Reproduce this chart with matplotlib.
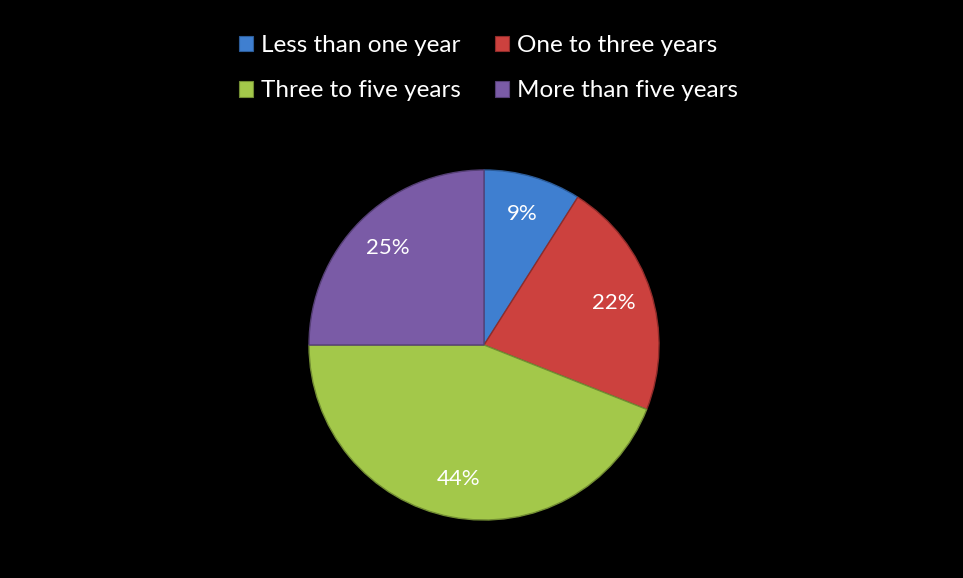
import matplotlib.pyplot as plt
from matplotlib.patches import Patch

plt.rcParams["font.family"] = ["Lato", "DejaVu Sans"]

categories = ["Less than one year", "One to three years", "Three to five years", "More than five years"]
shares = [9, 22, 44, 25]
colors = ["#3f7fd0", "#cc413e", "#a3c84a", "#7a5ba6"]
edge_colors = ["#2c5c99", "#8f2c2a", "#728d33", "#553f75"]

fig = plt.figure(figsize=(9.63, 5.78), dpi=100, facecolor="black")

# pie area: centre about (484, 345) px, radius 175 px
ax = fig.add_axes([309 / 963, 58 / 578, 350 / 963, 350 / 578])
ax.set_facecolor("black")
wedges, texts, autotexts = ax.pie(
    shares, colors=colors, startangle=90, counterclock=False,
    autopct="%d%%", pctdistance=0.78, radius=1,
    wedgeprops=dict(linewidth=1.0),
    textprops=dict(color="white", fontsize=16),
)
for w, ec in zip(wedges, edge_colors):
    w.set_edgecolor(ec)
ax.set_xlim(-1.0, 1.0)
ax.set_ylim(-1.0, 1.0)
ax.set_aspect("equal")
ax.axis("off")

# legend fills column by column, reorder so it reads row by row
order = [0, 2, 1, 3]
handles = [Patch(facecolor=colors[i], edgecolor=edge_colors[i], linewidth=0.8) for i in order]
labels = [categories[i] for i in order]
leg = fig.legend(
    handles, labels, ncol=2, loc="upper center", bbox_to_anchor=(0.507, 0.977),
    frameon=False, fontsize=17.5, labelcolor="white",
    handlelength=0.6, handleheight=0.6, handletextpad=0.3,
    columnspacing=1.4, labelspacing=1.0,
)

fig.savefig("out.png", dpi=100, facecolor="black")
